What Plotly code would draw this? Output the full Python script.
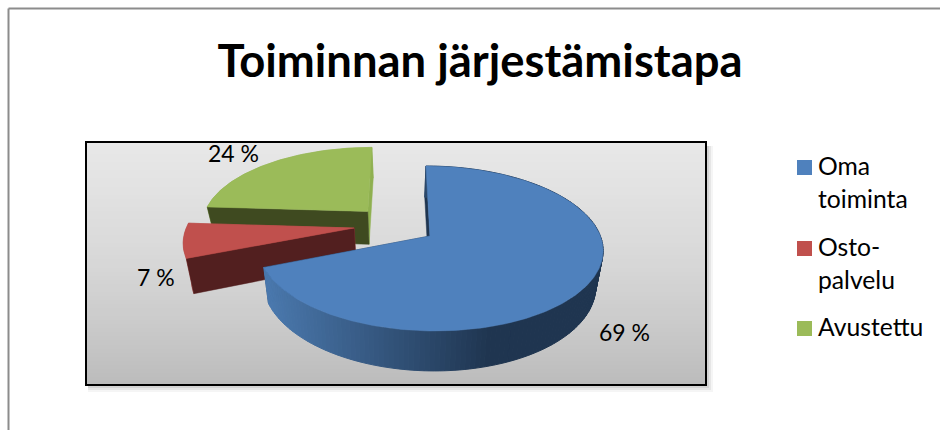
import math
import plotly.graph_objects as go

# ---- data ----
categories = ["Oma<br>toiminta", "Osto-<br>palvelu", "Avustettu"]
values = [69, 7, 24]
top_colors = ["#4F81BD", "#C0504D", "#9BBB59"]
front_colors = ["#1F3550", "#521F1F", "#3F4A20"]
back_colors = ["#1F3550", "#B0504E", "#8FB050"]
label_texts = ["69 %", "7 %", "24 %"]
title_text = "Toiminnan järjestämistapa"

# ---- projection of the tilted pie on the 940x430 canvas ----
FONT = "Lato"
X0, Y0_TOP, Y0_LOW = 400, 236, 270
A_TOP, B_TOP, K_TOP = 170.5, 80.6, 0.1515
A_LOW, B_LOW, K_LOW = 164, 84.6, 0.162
PIE_CENTER = (-0.029, 0.139)
EXPLODE = 0.247
LABEL_POS = [(624, 332), (156, 277), (233, 153)]
LEGEND_SWATCH_X = 804.5
LEGEND_TEXT_X = 818
LEGEND_Y = [167.5, 248.5, 328.5]
LEGEND_TEXT_DY = -2
LEGEND_LINE = 32.5


def project(u, v, low=False):
    if low:
        w = 1 + K_LOW * v
        return X0 + A_LOW * u / w, Y0_LOW - B_LOW * v / w
    w = 1 + K_TOP * v
    return X0 + A_TOP * u / w, Y0_TOP - B_TOP * v / w


def arc(cu, cv, a0, a1, low=False, step=1.0):
    n = max(2, int(abs(a1 - a0) / step) + 1)
    pts = []
    for i in range(n + 1):
        a = math.radians(a0 + (a1 - a0) * i / n)
        pts.append(project(cu + math.sin(a), cv + math.cos(a), low))
    return pts


def poly(fig, pts, color, lw=0.5):
    xs = [p[0] for p in pts] + [pts[0][0]]
    ys = [p[1] for p in pts] + [pts[0][1]]
    fig.add_trace(go.Scatter(x=xs, y=ys, mode="lines", fill="toself", fillcolor=color,
                             line=dict(color=color, width=lw), showlegend=False,
                             hoverinfo="skip"))


def mix(c0, c1, t):
    t = min(1, max(0, t))
    return "rgb(%d,%d,%d)" % tuple(round(a + (b - a) * t) for a, b in zip(c0, c1))


fig = go.Figure()

# plot-area background as a vertical gradient (one column, cell edges given)
grad_stops = [232, 229, 226, 222, 219, 215, 210, 205, 199, 193, 187]
rows = 60
y_edges = [142 + (385 - 142) * i / rows for i in range(rows + 1)]
z = []
for i in range(rows):
    t = (i + 0.5) / rows * (len(grad_stops) - 1)
    j = min(int(t), len(grad_stops) - 2)
    g = grad_stops[j] + (grad_stops[j + 1] - grad_stops[j]) * (t - j)
    z.append([g])
fig.add_trace(go.Heatmap(x=[86, 706], y=y_edges, z=z, zmin=0, zmax=255, showscale=False,
                         colorscale=[[0, "#000"], [1, "#fff"]], hoverinfo="skip"))

# slice geometry from the values
total = sum(values)
bounds, cum = [], 0
for v in values:
    bounds.append((cum / total * 360, (cum + v) / total * 360))
    cum += v

# painter's order: green, red, blue
for idx in [2, 1, 0]:
    a0, a1 = bounds[idx]
    mid = math.radians((a0 + a1) / 2)
    cu = PIE_CENTER[0] + EXPLODE * math.sin(mid)
    cv = PIE_CENTER[1] + EXPLODE * math.cos(mid)
    apex_t, apex_l = project(cu, cv), project(cu, cv, True)

    def radial(a, col):
        r = math.radians(a)
        p_t = project(cu + math.sin(r), cv + math.cos(r))
        p_l = project(cu + math.sin(r), cv + math.cos(r), True)
        poly(fig, [apex_t, p_t, p_l, apex_l], col)

    def walls():
        radial(a1, back_colors[idx])
        radial(a0, front_colors[idx])

    if idx == 0:
        walls()
        step = 1.5
        a = a0
        while a < a1:
            b = min(a + step, a1)
            top = arc(cu, cv, a, b, step=step)
            low = arc(cu, cv, a, b, True, step=step)
            xm = sum(p[0] for p in top) / len(top)
            col = mix((74, 120, 173), (31, 53, 80), (xm - 267) / (490 - 267))
            poly(fig, top + low[::-1], col, lw=1)
            a = b
    else:
        poly(fig, arc(cu, cv, a0, a1) + arc(cu, cv, a0, a1, True)[::-1], back_colors[idx])
        walls()

    # top face
    poly(fig, [apex_t] + arc(cu, cv, a0, a1), top_colors[idx])

# legend: swatches on the axes, text next to them, first line level with the swatch
annotations = []
for i, name in enumerate(categories):
    fig.add_trace(go.Scatter(x=[LEGEND_SWATCH_X], y=[LEGEND_Y[i]], mode="markers", showlegend=False,
                             hoverinfo="skip",
                             marker=dict(symbol="square", size=15, color=top_colors[i],
                                         line=dict(width=0))))
    for k, line in enumerate(name.split("<br>")):
        annotations.append(dict(x=LEGEND_TEXT_X, y=LEGEND_Y[i] + LEGEND_TEXT_DY + k * LEGEND_LINE, text=line,
                                showarrow=False, xanchor="left", yanchor="middle",
                                xshift=-2, font=dict(family=FONT, size=24.7, color="#000")))

shapes = []
# soft shadow of the plot area
for off, op in [(7, 0.04), (5, 0.06), (3, 0.08)]:
    shapes.append(dict(type="rect", x0=86 + 2, x1=706 + off, y0=142 + 4, y1=385 + off,
                       fillcolor="rgba(0,0,0,%g)" % op, line_width=0, layer="below"))
shapes.append(dict(type="rect", x0=86, x1=706, y0=142, y1=385,
                   line=dict(color="#000", width=2), layer="above"))
# outer chart frame
shapes.append(dict(type="line", x0=8.5, x1=940, y0=8.5, y1=8.5, line=dict(color="#8C8C8C", width=2)))
shapes.append(dict(type="line", x0=8.5, x1=8.5, y0=8.5, y1=430, line=dict(color="#8C8C8C", width=2)))

annotations += [dict(x=x, y=y, text=t, showarrow=False, xanchor="center", yanchor="middle",
                     font=dict(family=FONT, size=23, color="#000"))
                for (x, y), t in zip(LABEL_POS, label_texts)]

fig.update_layout(
    width=940, height=430, margin=dict(l=0, r=0, t=0, b=0),
    paper_bgcolor="#fff", plot_bgcolor="#fff",
    xaxis=dict(range=[0, 940], visible=False, fixedrange=True),
    yaxis=dict(range=[430, 0], visible=False, fixedrange=True),
    title=dict(text="<b>%s</b>" % title_text, x=480 / 940, xanchor="center", y=1 - 61 / 430,
               yanchor="middle", font=dict(family=FONT, size=45.4, color="#000")),
    shapes=shapes, annotations=annotations, showlegend=False,
)
fig.write_html("out.html", config={"displayModeBar": False},
               post_script="document.body.style.margin='0';document.body.style.overflow='hidden';")
